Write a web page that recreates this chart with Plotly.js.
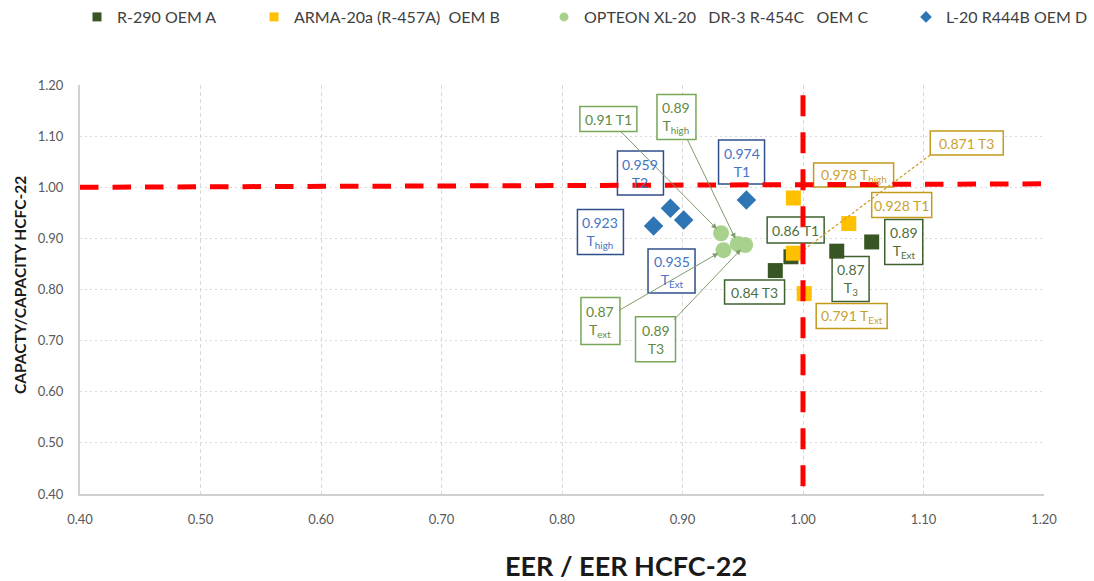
<!DOCTYPE html>
<html>
<head>
<meta charset="utf-8">
<script src="https://cdn.plot.ly/plotly-3.0.1.min.js"></script>
<style>html,body{margin:0;padding:0;background:#fff;}#chart{width:1094px;height:581px;}</style>
</head>
<body>
<div id="chart"></div>
<script>
// ---- data ----
const seriesNames = ['R-290 OEM A', 'ARMA-20a (R-457A)  OEM B', 'OPTEON XL-20   DR-3 R-454C   OEM C', 'L-20 R444B OEM D'];

const oemA_eer = [0.977, 0.990, 1.028, 1.057];
const oemA_cap = [0.837, 0.864, 0.875, 0.893];
const oemA_labels = ['0.84 T3', '0.86 T1', '0.87<br>T<sub>3</sub>', '0.89<br>T<sub>Ext</sub>'];

const oemB_eer = [0.992, 1.038, 0.992, 1.001];
const oemB_cap = [0.979, 0.929, 0.871, 0.792];
const oemB_labels = ['0.978 T<sub>high</sub>', '0.928 T1', '0.871 T3', '0.791 T<sub>Ext</sub>'];

const oemC_eer = [0.932, 0.934, 0.946, 0.952];
const oemC_cap = [0.910, 0.877, 0.889, 0.887];
const oemC_labels = ['0.91 T1', '0.87<br>T<sub>ext</sub>', '0.89<br>T<sub>high</sub>', '0.89<br>T3'];

const oemD_eer = [0.876, 0.890, 0.901, 0.953];
const oemD_cap = [0.924, 0.959, 0.936, 0.975];
const oemD_labels = ['0.923<br>T<sub>high</sub>', '0.959<br>T2', '0.935<br>T<sub>Ext</sub>', '0.974<br>T1'];

const tickVals = [0.40, 0.50, 0.60, 0.70, 0.80, 0.90, 1.00, 1.10, 1.20];
const tickText = ['0.40', '0.50', '0.60', '0.70', '0.80', '0.90', '1.00', '1.10', '1.20'];

const xTitle = 'EER / EER HCFC-22';
const yTitle = 'CAPACTY/CAPACITY HCFC-22';

const refEER = 1.00;
const refCap = 1.00;

// ---- layout helpers (positions / styles, not data) ----
// label box centres in axis units, box size in px, arrow flag
const labelPosA = [[0.9598, 0.7949, 60, 24, false], [0.9939, 0.9162, 57, 26, false], [1.0395, 0.8204, 37, 45, false], [1.0836, 0.8928, 38, 45, false]];
const labelPosB = [[1.0420, 1.0239, 80, 24, false], [1.0819, 0.9652, 60, 25, false], [1.1359, 1.0865, 73, 24, 'dash'], [1.0404, 0.7480, 71, 25, false]];
const labelPosC = [[0.8385, 1.1335, 57, 25, true], [0.8319, 0.7382, 39, 47, true], [0.8950, 1.1374, 39, 45, true], [0.8776, 0.7029, 40, 45, true]];
const labelPosD = [[0.8319, 0.9123, 46, 45, false], [0.8651, 1.0278, 46, 44, false], [0.8909, 0.8360, 47, 44, false], [0.9490, 1.0493, 46, 44, false]];

const FONT = 'Lato, "Open Sans", sans-serif';

const styleA = {color: '#375623', border: '#3F6130', text: '#4E6E3E', arrow: '#3F6130', symbol: 'square', size: 15};
const styleB = {color: '#FFC000', border: '#C49A1C', text: '#C9A22E', arrow: '#C9A22E', symbol: 'square', size: 15};
const styleC = {color: '#A9D18E', border: '#77A857', text: '#5E8A45', arrow: '#7E9C6C', symbol: 'circle', size: 16};
const styleD = {color: '#2E75B6', border: '#2F4F8A', text: '#4472C4', arrow: '#2F4F8A', symbol: 'diamond', size: 15};

const groups = [
  {name: seriesNames[0], x: oemA_eer, y: oemA_cap, labels: oemA_labels, pos: labelPosA, st: styleA, legend: 'legend'},
  {name: seriesNames[1], x: oemB_eer, y: oemB_cap, labels: oemB_labels, pos: labelPosB, st: styleB, legend: 'legend2'},
  {name: seriesNames[2], x: oemC_eer, y: oemC_cap, labels: oemC_labels, pos: labelPosC, st: styleC, legend: 'legend3'},
  {name: seriesNames[3], x: oemD_eer, y: oemD_cap, labels: oemD_labels, pos: labelPosD, st: styleD, legend: 'legend4'}
];

// legend text start pixel positions (plot left = 80, plot width 964)
const legendTextPx = [114, 291, 581, 943];

const traces = [];
const annotations = [];
const shapes = [];

groups.forEach((g) => {
  traces.push({
    type: 'scatter', mode: 'markers', x: g.x, y: g.y, name: g.name, showlegend: false,
    marker: {color: g.st.color, symbol: g.st.symbol, size: g.st.size, line: {width: 0}},
    hoverinfo: 'x+y'
  });
  // legend-only trace with small marker
  traces.push({
    type: 'scatter', mode: 'markers', x: [null], y: [null], name: g.name, legend: g.legend,
    marker: {color: g.st.color, symbol: g.st.symbol, size: 9, line: {width: 0}}
  });
});

groups.forEach(g => {
  g.labels.forEach((lab, i) => {
    const p = g.pos[i];
    const cx = p[0], cy = p[1], w = p[2], h = p[3], arrow = p[4];
    // label box (above grid, below markers and reference lines)
    shapes.push({
      type: 'rect', layer: 'between', xref: 'x', yref: 'y',
      xsizemode: 'pixel', ysizemode: 'pixel', xanchor: cx, yanchor: cy,
      x0: -w / 2, x1: w / 2, y0: -h / 2, y1: h / 2,
      fillcolor: '#ffffff', line: {width: 1.5, color: g.st.border}
    });
    const ann = {
      text: lab, xref: 'x', yref: 'y',
      font: {family: FONT, size: 14, color: g.st.text},
      borderpad: 4, align: 'center'
    };
    if (arrow === true) {
      Object.assign(ann, {
        x: g.x[i], y: g.y[i], axref: 'x', ayref: 'y', ax: cx, ay: cy,
        showarrow: true, arrowhead: 2, arrowsize: 1.1, arrowwidth: 1, arrowcolor: g.st.arrow, standoff: 6
      });
    } else {
      Object.assign(ann, {x: cx, y: cy, showarrow: false});
    }
    annotations.push(ann);
    if (arrow === 'dash') {
      // dashed leader line from box corner to the point
      shapes.push({
        type: 'line', layer: 'above', xref: 'x', yref: 'y',
        x0: cx - (w / 2) / 1204, y0: cy - (h / 2) / 511,
        x1: g.x[i] + 0.006, y1: g.y[i] + 0.002,
        line: {color: g.st.arrow, width: 1.3, dash: '3px,2px'}
      });
    }
  });
});

// axis titles placed as in the reference
annotations.push({
  text: xTitle, xref: 'paper', yref: 'paper', x: (626 - 80) / 964, y: (494 - 565) / 409,
  xanchor: 'center', yanchor: 'middle', showarrow: false,
  font: {family: FONT, size: 27, color: '#1a1a1a', weight: 700}
});
annotations.push({
  text: yTitle, xref: 'paper', yref: 'paper', x: (20 - 80) / 964, y: (494 - 285) / 409,
  xanchor: 'center', yanchor: 'middle', showarrow: false, textangle: -90,
  font: {family: FONT, size: 15.5, color: '#1a1a1a', weight: 700}
});

// red reference lines
shapes.push({
  type: 'line', layer: 'above', xref: 'x', yref: 'y',
  x0: 0.4, x1: 1.2, y0: refCap, y1: refCap + 0.0067,
  line: {color: '#FF0000', width: 5, dash: '18.5px,14px'}
});
shapes.push({
  type: 'line', layer: 'above', xref: 'x', yref: 'y',
  x0: refEER, x1: refEER, y0: 1.18, y1: 0.405,
  line: {color: '#FF0000', width: 5, dash: '21px,16px'}
});

const legendCommon = {
  orientation: 'h', yanchor: 'middle', y: (494 - 17) / 409, xanchor: 'left',
  bgcolor: 'rgba(0,0,0,0)', borderwidth: 0,
  font: {family: FONT, size: 16, color: '#404040'}, itemclick: false, itemdoubleclick: false
};
const lg = legendTextPx.map(px => Object.assign({}, legendCommon, {x: (px - 80 - 37) / 964}));

const layout = {
  width: 1094, height: 581,
  margin: {l: 80, r: 50, t: 85, b: 87, autoexpand: false},
  paper_bgcolor: '#ffffff', plot_bgcolor: '#ffffff',
  showlegend: true,
  legend: lg[0], legend2: lg[1], legend3: lg[2], legend4: lg[3],
  xaxis: {
    range: [0.4, 1.2], tickvals: tickVals, ticktext: tickText, automargin: false,
    showgrid: true, gridcolor: '#d9d9d9', griddash: '4px,3px', gridwidth: 1,
    zeroline: false, showline: true, linecolor: '#d0d0d0', linewidth: 2,
    ticks: '', ticklabelstandoff: 12,
    tickfont: {family: FONT, size: 13, color: '#595959'}
  },
  yaxis: {
    range: [0.4, 1.2], tickvals: tickVals, ticktext: tickText, automargin: false,
    showgrid: true, gridcolor: '#d9d9d9', griddash: '2px,3px', gridwidth: 1,
    zeroline: false, showline: true, linecolor: '#d0d0d0', linewidth: 2,
    ticks: '', ticklabelstandoff: 12,
    tickfont: {family: FONT, size: 13, color: '#595959'}
  },
  annotations: annotations,
  shapes: shapes
};

Plotly.newPlot('chart', traces, layout, {displayModeBar: false, responsive: false});
</script>
</body>
</html>
